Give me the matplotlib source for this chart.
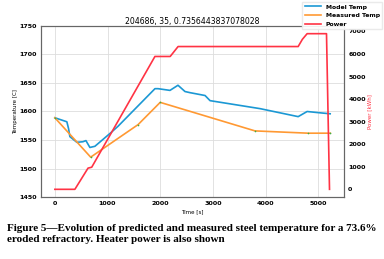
import numpy as np
import matplotlib.pyplot as plt

# measured steel temperature (points where a sample was taken)
meas_t = [0, 680, 1580, 2000, 3800, 4810, 5230]
meas_T = [1589, 1520, 1577, 1616, 1566, 1562, 1562]

# model temperature
model_t = [0, 228, 260, 285, 418, 532, 590, 665, 760, 1065, 1198, 1901, 1958,
           2186, 2338, 2471, 2567, 2852, 2947, 3897, 4620, 4790, 5000, 5228]
model_T = [1589, 1582, 1570, 1556, 1546, 1547, 1549, 1537, 1539, 1563, 1574, 1640, 1640,
           1637, 1646, 1635, 1633, 1628, 1619, 1605, 1591, 1600, 1598, 1596]

# heater power
power_t = [0, 380, 630, 700, 1900, 2190, 2340, 4620, 4700, 4790, 5158, 5215]
power_P = [0, 0, 940, 980, 5890, 5890, 6330, 6330, 6650, 6900, 6900, 0]

title = "204686, 35, 0.7356443837078028"
caption = ("Figure 5\u2014Evolution of predicted and measured steel temperature for a 73.6%\n"
           "eroded refractory. Heater power is also shown")

blue = '#1b98d4'
orange = '#ff9933'
red = '#ff3344'

fig = plt.figure(figsize=(3.84, 2.59), dpi=100)
ax = fig.add_axes([0.107, 0.239, 0.789, 0.661])
ax2 = ax.twinx()

l1, = ax.plot(model_t, model_T, color=blue, lw=1.2, label='Model Temp')
l2, = ax.plot(meas_t, meas_T, color=orange, lw=1.2, label='Measured Temp')
ax.plot(meas_t, meas_T, 'o', color='#3cb043', ms=1.2, mew=0)
l3, = ax2.plot(power_t, power_P, color=red, lw=1.2, label='Power')

ax.set_ylim(1450, 1750)
ax.set_xticks([0, 1000, 2000, 3000, 4000, 5000])
ax.set_yticks([1450, 1500, 1550, 1600, 1650, 1700, 1750])
ax2.set_yticks([0, 1000, 2000, 3000, 4000, 5000, 6000, 7000])
ax.grid(True, color='#dddddd', lw=0.6)
ax.set_axisbelow(True)

for a in (ax, ax2):
    a.tick_params(length=0, pad=3, labelsize=4.6)
    for lab in a.get_xticklabels() + a.get_yticklabels():
        lab.set_fontweight('bold')
    for s in a.spines.values():
        s.set_color('#666666')
        s.set_linewidth(0.8)

ax.set_title(title, fontsize=5.6, pad=1.5)
ax.set_xlabel('Time [s]', fontsize=4, labelpad=2)
ax.set_ylabel('Temperature [C]', fontsize=4, labelpad=1)
ax2.set_ylabel('Power [kWh]', fontsize=4, color=red, labelpad=1)

leg = fig.legend(handles=[l1, l2, l3], loc='upper right',
                 prop={'weight': 'bold', 'size': 4.4}, handlelength=2.6,
                 borderaxespad=0.3, framealpha=0.9, edgecolor='#e8e8e8',
                 fancybox=False, labelspacing=0.55)

fig.text(0.018, 0.135, caption, fontsize=8.0, fontweight='bold',
         family='Liberation Serif', va='top', ha='left', linespacing=1.3)

fig.savefig('out.png', dpi=100)
